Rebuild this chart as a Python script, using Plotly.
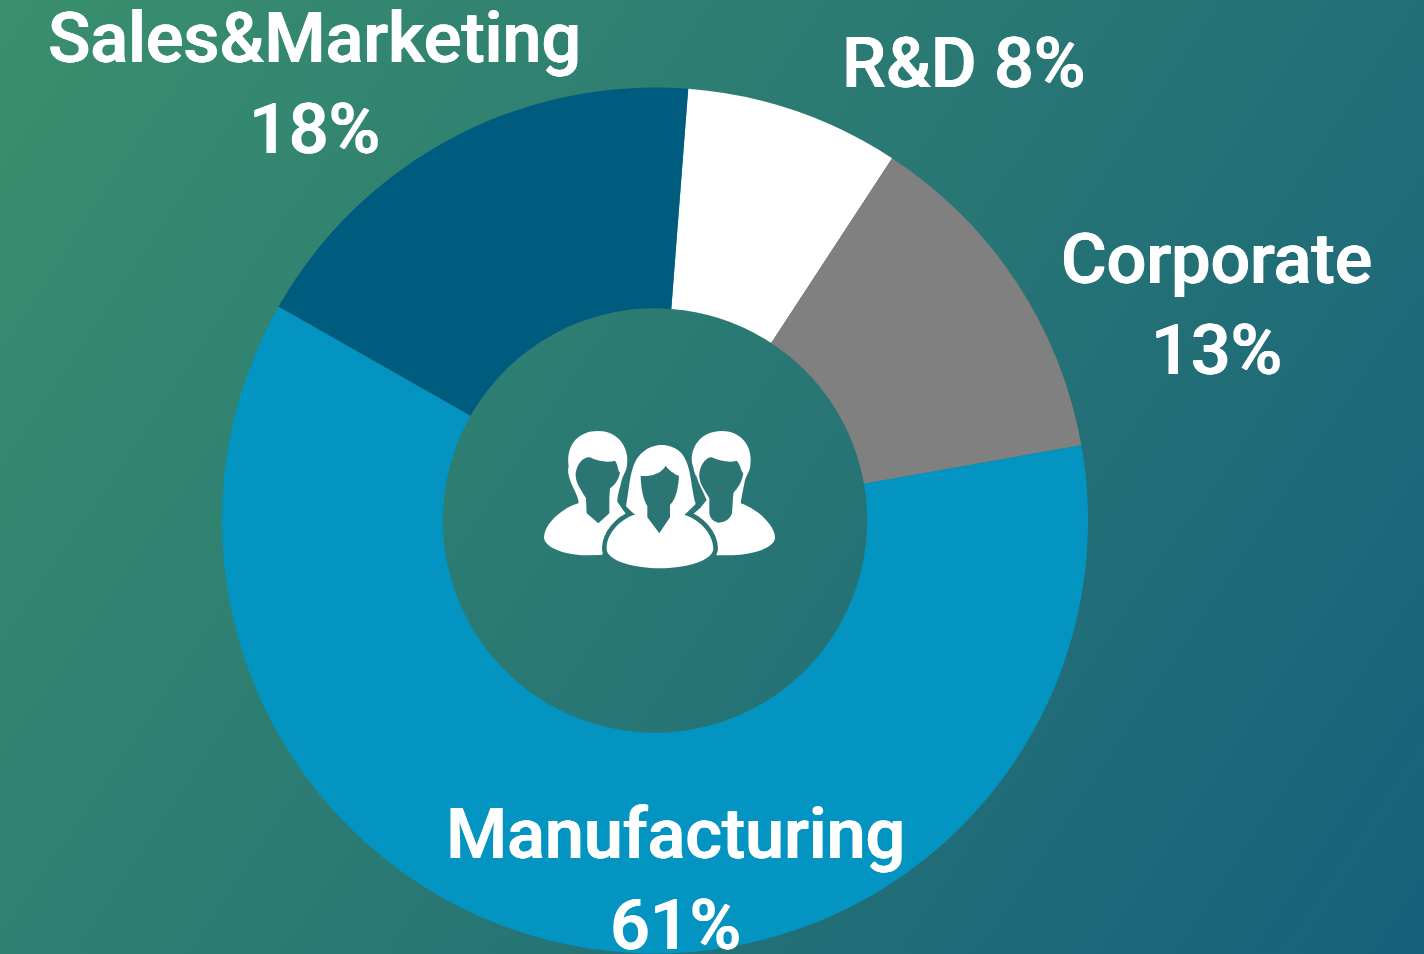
import base64
import plotly.graph_objects as go

categories = ["R&D", "Corporate", "Manufacturing", "Sales&Marketing"]
values = [8, 13, 61, 18]
colors = ["#ffffff", "#808080", "#0494c1", "#005c7f"]
label_text = ["R&D 8%", "Corporate<br>13%", "Manufacturing<br>61%", "Sales&Marketing<br>18%"]
label_x = [963, 1216, 675, 314]
label_y = [63, 305, 879, 84]

W, H = 1424, 954
BG = "#2b7675"
icon = f'''
<g transform="translate(530,420) scale(0.33333)">
<path fill="#fff" d="M116,140 C108,85 135,33 205,33 C262,33 298,80 291,132 C291,150 282,160 275,180 C270,205 262,225 262,245 L285,278 L300,300 L215,405 L170,406 C110,405 42,385 42,350 C45,310 95,265 145,250 C150,240 130,205 122,185 C115,165 112,150 116,140 Z"/>
<path fill="{BG}" d="M137,160 C142,130 160,110 180,112 C205,125 235,128 255,122 C265,135 262,150 270,158 C265,180 255,195 240,205 L238,235 L238,280 L205,310 L170,280 L168,235 C155,210 135,190 137,160 Z"/>
<path fill="#fff" d="M486,130 C480,85 510,33 575,33 C635,33 668,80 661,132 C662,150 652,160 645,180 C640,205 635,230 632,250 C690,270 735,320 735,352 C735,385 665,406 590,406 L560,406 L480,290 L510,265 L530,240 C520,215 505,190 500,170 C490,155 485,145 486,130 Z"/>
<path fill="{BG}" d="M508,160 C512,130 530,112 545,112 C575,125 600,128 620,122 C632,135 632,150 640,160 C635,190 622,205 610,220 L606,280 C600,300 580,308 565,308 C550,305 540,295 538,280 L538,235 C525,210 505,190 508,160 Z"/>
<g stroke="{BG}" stroke-width="28" stroke-linejoin="round" fill="{BG}">
<path d="M230,385 C230,340 270,300 310,285 L465,285 C510,300 548,340 550,385 C550,425 460,445 390,445 C320,445 228,425 230,385 Z"/>
<path d="M288,258 C300,200 298,125 340,95 C370,68 420,68 450,95 C485,130 480,190 497,252 C480,268 470,280 455,292 L325,292 C315,285 300,272 288,258 Z"/>
</g>
<path fill="#fff" d="M230,385 C230,340 270,300 310,285 L465,285 C510,300 548,340 550,385 C550,425 460,445 390,445 C320,445 228,425 230,385 Z"/>
<path fill="#fff" d="M288,258 C300,200 298,125 340,95 C370,68 420,68 450,95 C485,130 480,190 497,252 C480,268 470,280 455,292 L325,292 C315,285 300,272 288,258 Z"/>
<path fill="{BG}" d="M332,168 C365,170 395,160 407,137 C420,155 440,165 447,168 C445,200 440,235 420,255 L420,292 L388,340 L352,292 L352,258 C340,240 332,200 332,168 Z"/>
</g>'''
svg = f'''<svg xmlns="http://www.w3.org/2000/svg" width="{W}" height="{H}" viewBox="0 0 {W} {H}">
<defs><linearGradient id="g" gradientUnits="userSpaceOnUse" x1="0" y1="0" x2="{W}" y2="{H}">
<stop offset="0" stop-color="#3a8f6d"/><stop offset="1" stop-color="#17607c"/></linearGradient></defs>
<rect width="{W}" height="{H}" fill="url(#g)"/>{icon}</svg>'''
src = "data:image/svg+xml;base64," + base64.b64encode(svg.encode()).decode()

fig = go.Figure(go.Pie(
    labels=categories, values=values, hole=0.49, sort=False, direction="clockwise",
    rotation=4.4, marker=dict(colors=colors, line=dict(width=0)), textinfo="none",
    hoverinfo="label+percent",
    domain=dict(x=[222 / W, 1088 / W], y=[0, 1 - 87 / H]),
))
fig.update_layout(
    width=W, height=H, margin=dict(l=0, r=0, t=0, b=0), showlegend=False,
    paper_bgcolor="#2b7675",
    images=[dict(source=src, xref="paper", yref="paper", x=0, y=1, sizex=1, sizey=1,
                 sizing="stretch", xanchor="left", yanchor="top", layer="below")],
    annotations=[dict(text=t, x=x / W, y=1 - y / H, xref="paper", yref="paper",
                      showarrow=False, xanchor="center", yanchor="middle", align="center",
                      font=dict(family="Roboto", size=70, color="#ffffff", weight=500,
                                shadow="0.6px 0 0 #fff, -0.6px 0 0 #fff"))
                 for t, x, y in zip(label_text, label_x, label_y)],
)
fig.write_html("out.html", config=dict(displayModeBar=False),
               post_script="document.body.style.margin='0';document.body.style.overflow='hidden';")
